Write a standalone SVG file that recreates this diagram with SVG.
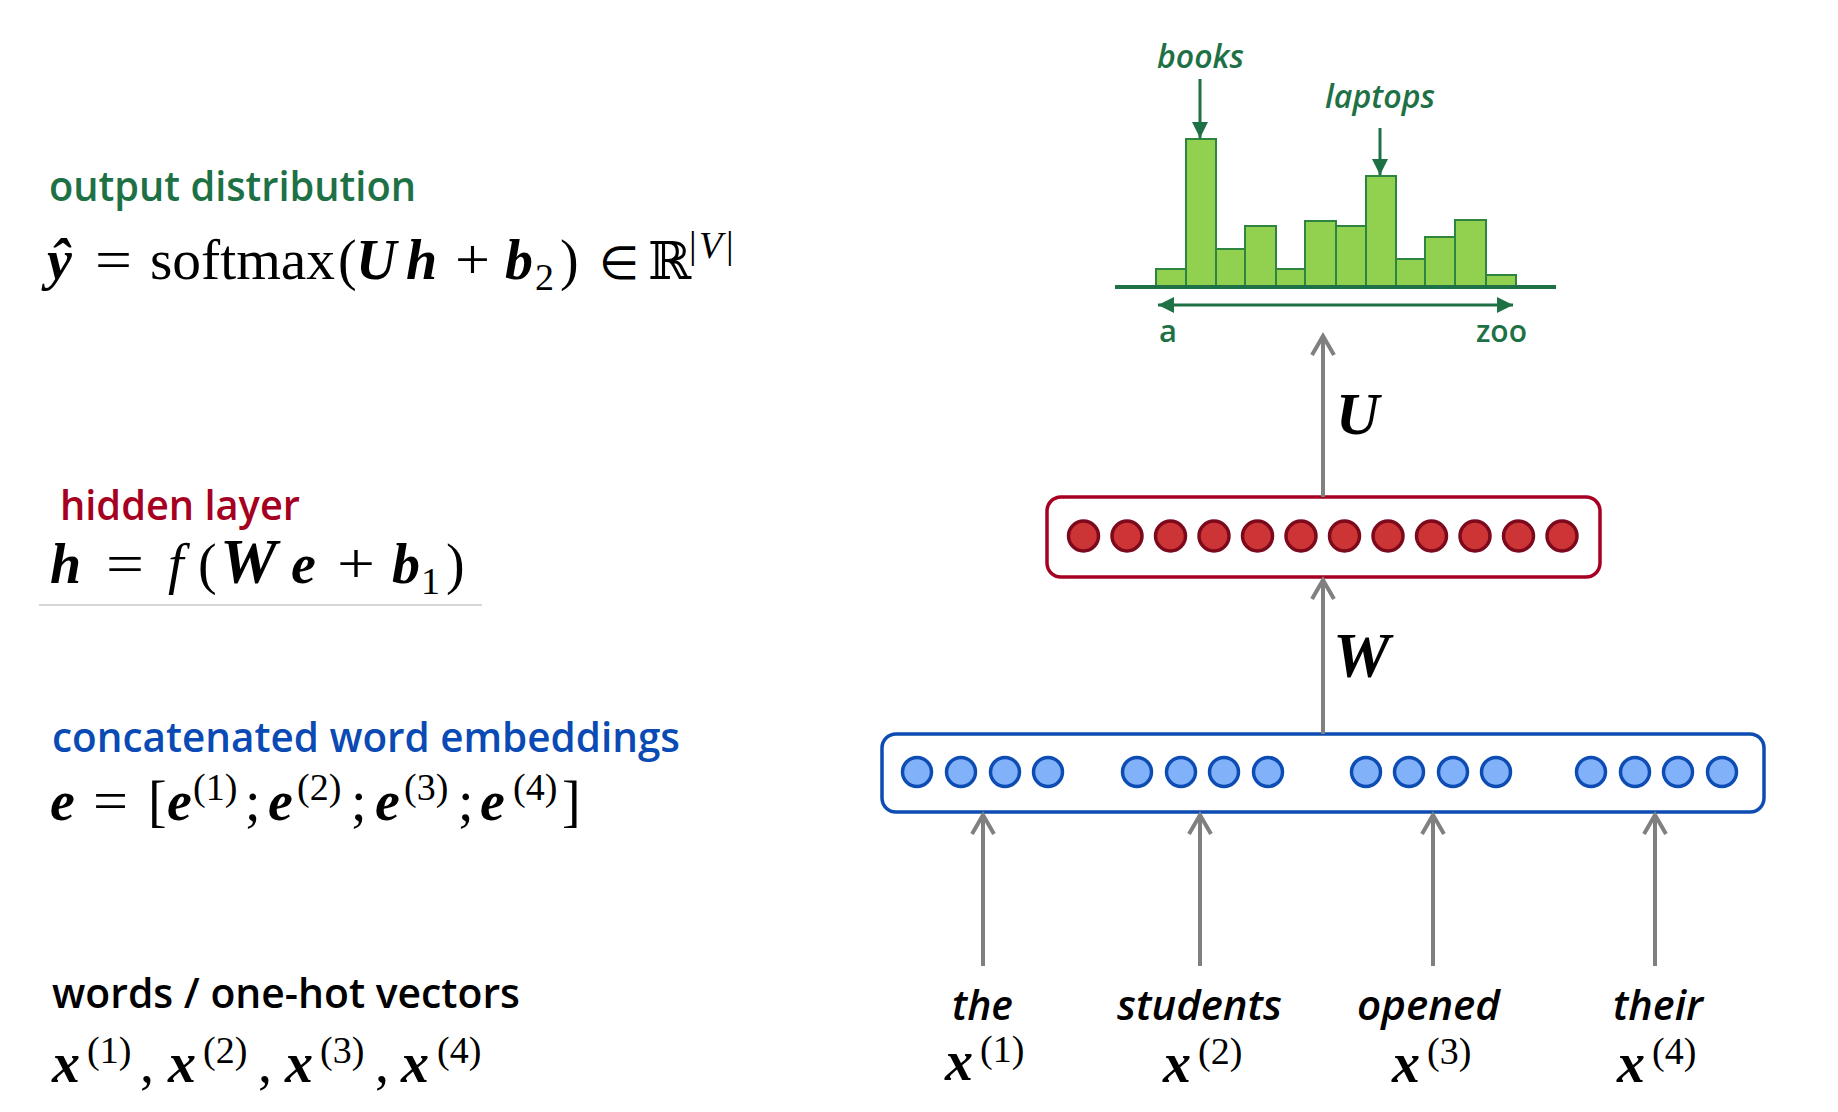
<svg xmlns="http://www.w3.org/2000/svg" width="1838" height="1112" viewBox="0 0 1838 1112">
<style>
.lbl{font-family:"Open Sans",Lato,"Liberation Sans",sans-serif;font-size:42px;font-weight:600}
.m{font-family:"Liberation Serif","Times New Roman",serif;font-size:56px;fill:#000}
.bi{font-weight:bold;font-style:italic}
.it{font-style:italic}
.sup{font-size:38px}
.grn{fill:#1e7145}
.bar{fill:#92d050;stroke:#2e8540;stroke-width:2}
.gline{stroke:#1e7145;stroke-width:3;fill:none}
.arr{stroke:#808080;stroke-width:4;fill:none}
.rc{fill:#cc3435;stroke:#7d0a1c;stroke-width:3.5}
.bc{fill:#80b1f9;stroke:#0d4cb3;stroke-width:3.5}
.word{font-family:"Open Sans",Lato,"Liberation Sans",sans-serif;font-size:41px;font-style:italic;font-weight:600;fill:#000}
</style>
<defs>
<marker id="chev" markerUnits="userSpaceOnUse" orient="auto" viewBox="-24 -14 28 28" refX="0" refY="0" markerWidth="28" markerHeight="28">
<path d="M-19,-11 L0,0 L-19,11" fill="none" stroke="#808080" stroke-width="4"/>
</marker>
<marker id="gtri" markerUnits="userSpaceOnUse" orient="auto-start-reverse" viewBox="-18 -10 20 20" refX="0" refY="0" markerWidth="20" markerHeight="20">
<path d="M0,0 L-16,-8 L-16,8 Z" fill="#1e7145"/>
</marker>
</defs>
<rect width="1838" height="1112" fill="#fff"/>

<g id="left-annotations">
<text class="lbl" x="49" y="201" textLength="367" lengthAdjust="spacingAndGlyphs" fill="#1e7145">output distribution</text>
<text class="m" y="279"><tspan class="bi" x="47">ŷ</tspan><tspan x="95" textLength="37" lengthAdjust="spacingAndGlyphs">=</tspan><tspan x="150" textLength="185" lengthAdjust="spacingAndGlyphs">softmax</tspan><tspan x="338">(</tspan><tspan class="bi" x="356">U</tspan><tspan class="bi" x="406">h</tspan><tspan x="455" textLength="35" lengthAdjust="spacingAndGlyphs">+</tspan><tspan class="bi" x="505">b</tspan><tspan class="sup" x="535" y="290">2</tspan><tspan x="560" y="279">)</tspan><tspan x="599" style="font-size:46px">∈</tspan><tspan x="648" style="font-family:'DejaVu Serif',serif;font-size:52px">ℝ</tspan><tspan class="sup" x="689" y="258">|</tspan><tspan class="sup it" x="699" y="258">V</tspan><tspan class="sup" x="726" y="258">|</tspan></text>

<text class="lbl" x="60" y="520" textLength="240" lengthAdjust="spacingAndGlyphs" fill="#a50021">hidden layer</text>
<text class="m" y="583"><tspan class="bi" x="50">h</tspan><tspan x="106" textLength="38" lengthAdjust="spacingAndGlyphs">=</tspan><tspan class="it" x="168">f</tspan><tspan x="198">(</tspan><tspan class="bi" x="220" style="font-size:64px">W</tspan><tspan class="bi" x="291">e</tspan><tspan x="337" textLength="38" lengthAdjust="spacingAndGlyphs">+</tspan><tspan class="bi" x="392">b</tspan><tspan class="sup" x="421" y="594">1</tspan><tspan x="446" y="583">)</tspan></text>
<line x1="39" y1="605" x2="482" y2="605" stroke="#c8c8c8" stroke-width="1.5"/>

<text class="lbl" x="52" y="752" textLength="628" lengthAdjust="spacingAndGlyphs" fill="#0a4ab4">concatenated word embeddings</text>
<text class="m" y="820"><tspan class="bi" x="50">e</tspan><tspan x="93" textLength="35" lengthAdjust="spacingAndGlyphs">=</tspan><tspan x="148">[</tspan><tspan class="bi" x="167">e</tspan><tspan class="sup" x="193" y="800">(1)</tspan><tspan x="245" y="820">;</tspan><tspan class="bi" x="268">e</tspan><tspan class="sup" x="297" y="800">(2)</tspan><tspan x="351" y="820">;</tspan><tspan class="bi" x="375">e</tspan><tspan class="sup" x="404" y="800">(3)</tspan><tspan x="458" y="820">;</tspan><tspan class="bi" x="480">e</tspan><tspan class="sup" x="513" y="800">(4)</tspan><tspan x="562" y="820">]</tspan></text>

<text class="lbl" x="52" y="1008" textLength="468" lengthAdjust="spacingAndGlyphs" fill="#000">words / one-hot vectors</text>
<text class="m" y="1082"><tspan class="bi" x="52">x</tspan><tspan class="sup" x="87" y="1063">(1)</tspan><tspan x="140" y="1082">,</tspan><tspan class="bi" x="168">x</tspan><tspan class="sup" x="203" y="1063">(2)</tspan><tspan x="258" y="1082">,</tspan><tspan class="bi" x="285">x</tspan><tspan class="sup" x="320" y="1063">(3)</tspan><tspan x="375" y="1082">,</tspan><tspan class="bi" x="401">x</tspan><tspan class="sup" x="437" y="1063">(4)</tspan></text>
</g>

<g id="output-distribution">
<rect class="bar" x="1156" y="269" width="30" height="18"/>
<rect class="bar" x="1186" y="139" width="30" height="148"/>
<rect class="bar" x="1216" y="249" width="29" height="38"/>
<rect class="bar" x="1245" y="226" width="31" height="61"/>
<rect class="bar" x="1276" y="269" width="29" height="18"/>
<rect class="bar" x="1305" y="221" width="31" height="66"/>
<rect class="bar" x="1336" y="226" width="30" height="61"/>
<rect class="bar" x="1366" y="176" width="30" height="111"/>
<rect class="bar" x="1396" y="259" width="29" height="28"/>
<rect class="bar" x="1425" y="237" width="30" height="50"/>
<rect class="bar" x="1455" y="220" width="31" height="67"/>
<rect class="bar" x="1486" y="275" width="30" height="12"/>
<line x1="1115" y1="287" x2="1556" y2="287" stroke="#1e7145" stroke-width="4"/>
<line class="gline" x1="1158" y1="305" x2="1513" y2="305" marker-start="url(#gtri)" marker-end="url(#gtri)"/>
<line class="gline" x1="1200" y1="79" x2="1200" y2="138" marker-end="url(#gtri)"/>
<line class="gline" x1="1380" y1="128" x2="1380" y2="175" marker-end="url(#gtri)"/>
<text class="lbl grn it" x="1157" y="68" style="font-size:32px" textLength="87" lengthAdjust="spacingAndGlyphs">books</text>
<text class="lbl grn it" x="1325" y="108" style="font-size:32px" textLength="110" lengthAdjust="spacingAndGlyphs">laptops</text>
<text class="lbl grn" x="1159" y="342" style="font-size:31px">a</text>
<text class="lbl grn" x="1476" y="342" style="font-size:31px" textLength="51" lengthAdjust="spacingAndGlyphs">zoo</text>
</g>

<g id="hidden-layer">
<rect x="1047" y="497" width="553" height="80" rx="14" fill="#fff" stroke="#a50021" stroke-width="3.5"/>
<circle class="rc" cx="1083.5" cy="536" r="15"/>
<circle class="rc" cx="1127" cy="536" r="15"/>
<circle class="rc" cx="1170.5" cy="536" r="15"/>
<circle class="rc" cx="1214" cy="536" r="15"/>
<circle class="rc" cx="1257.5" cy="536" r="15"/>
<circle class="rc" cx="1301" cy="536" r="15"/>
<circle class="rc" cx="1344.5" cy="536" r="15"/>
<circle class="rc" cx="1388" cy="536" r="15"/>
<circle class="rc" cx="1431.5" cy="536" r="15"/>
<circle class="rc" cx="1475" cy="536" r="15"/>
<circle class="rc" cx="1518.5" cy="536" r="15"/>
<circle class="rc" cx="1562" cy="536" r="15"/>
</g>

<g id="embedding-layer">
<rect x="882" y="734" width="882" height="78" rx="14" fill="#fff" stroke="#0d4cb3" stroke-width="3.5"/>
<circle class="bc" cx="917" cy="772" r="14.5"/>
<circle class="bc" cx="961" cy="772" r="14.5"/>
<circle class="bc" cx="1005" cy="772" r="14.5"/>
<circle class="bc" cx="1048" cy="772" r="14.5"/>
<circle class="bc" cx="1137" cy="772" r="14.5"/>
<circle class="bc" cx="1181" cy="772" r="14.5"/>
<circle class="bc" cx="1224" cy="772" r="14.5"/>
<circle class="bc" cx="1268" cy="772" r="14.5"/>
<circle class="bc" cx="1366" cy="772" r="14.5"/>
<circle class="bc" cx="1409" cy="772" r="14.5"/>
<circle class="bc" cx="1453" cy="772" r="14.5"/>
<circle class="bc" cx="1496" cy="772" r="14.5"/>
<circle class="bc" cx="1591" cy="772" r="14.5"/>
<circle class="bc" cx="1635" cy="772" r="14.5"/>
<circle class="bc" cx="1678" cy="772" r="14.5"/>
<circle class="bc" cx="1722" cy="772" r="14.5"/>
</g>

<g id="inputs">
<text class="word" x="982.5" y="1020" text-anchor="middle" textLength="61" lengthAdjust="spacingAndGlyphs">the</text>
<text class="word" x="1199.5" y="1020" text-anchor="middle" textLength="165" lengthAdjust="spacingAndGlyphs">students</text>
<text class="word" x="1428.5" y="1020" text-anchor="middle" textLength="143" lengthAdjust="spacingAndGlyphs">opened</text>
<text class="word" x="1658" y="1020" text-anchor="middle" textLength="90" lengthAdjust="spacingAndGlyphs">their</text>
<text class="m" y="1080"><tspan class="bi" x="945">x</tspan><tspan class="sup" x="980" y="1062">(1)</tspan></text>
<text class="m" y="1082"><tspan class="bi" x="1163">x</tspan><tspan class="sup" x="1198" y="1064">(2)</tspan></text>
<text class="m" y="1082"><tspan class="bi" x="1392">x</tspan><tspan class="sup" x="1427" y="1064">(3)</tspan></text>
<text class="m" y="1082"><tspan class="bi" x="1617">x</tspan><tspan class="sup" x="1652" y="1064">(4)</tspan></text>
</g>

<g id="connectors">
<line class="arr" x1="1323" y1="497" x2="1323" y2="336" marker-end="url(#chev)"/>
<line class="arr" x1="1323" y1="734" x2="1323" y2="580" marker-end="url(#chev)"/>
<line class="arr" x1="983" y1="966" x2="983" y2="815" marker-end="url(#chev)"/>
<line class="arr" x1="1200" y1="966" x2="1200" y2="815" marker-end="url(#chev)"/>
<line class="arr" x1="1433" y1="966" x2="1433" y2="815" marker-end="url(#chev)"/>
<line class="arr" x1="1655" y1="966" x2="1655" y2="815" marker-end="url(#chev)"/>
<text class="m bi" x="1336" y="434" style="font-size:60px">U</text>
<text class="m bi" x="1333" y="677" style="font-size:64px">W</text>
</g>
</svg>
